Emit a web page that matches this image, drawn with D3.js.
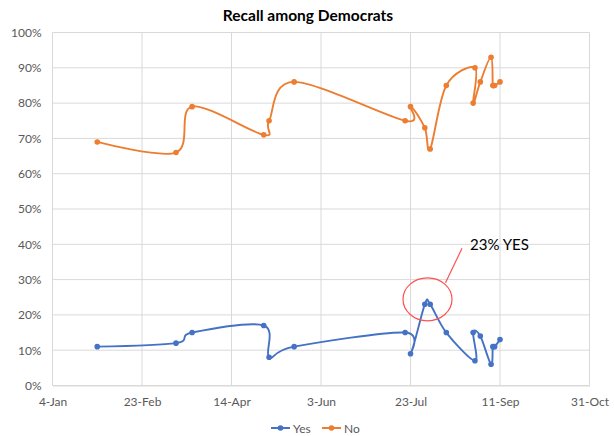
<!DOCTYPE html>
<html>
<head>
<meta charset="utf-8">
<script src="https://cdn.jsdelivr.net/npm/d3@7"></script>
<style>
  html, body { margin: 0; padding: 0; background: #fff; }
  svg { display: block; }
</style>
</head>
<body>
<svg id="chart" width="614" height="436"></svg>
<script>
// ---- data ----
const dates = ["2021-01-29","2021-03-14","2021-03-23","2021-05-02","2021-05-05","2021-05-19",
  "2021-07-20","2021-07-23","2021-07-31","2021-08-03","2021-08-12","2021-08-28","2021-08-27",
  "2021-08-31","2021-09-06","2021-09-07","2021-09-08","2021-09-11"];
const yesValues = [11,12,15,17,8,11,15,9,23,23,15,7,15,14,6,11,11,13];
const noValues  = [69,66,79,71,75,86,75,79,73,67,85,90,80,86,93,85,85,86];
const xTickDates = ["2021-01-04","2021-02-23","2021-04-14","2021-06-03","2021-07-23","2021-09-11","2021-10-31"];
const yTickValues = [0,10,20,30,40,50,60,70,80,90,100];
const title = "Recall among Democrats";
const annotationText = "23% YES";
const seriesNames = ["Yes","No"];
const seriesColors = ["#4472C4","#ED7D31"];

// ---- chart ----
const parse = d3.utcParse("%Y-%m-%d");
const fmt = d3.utcFormat("%-d-%b");
const svg = d3.select("#chart");
const font = "Lato, 'Open Sans', sans-serif";

const x = d3.scaleUtc()
  .domain([parse(xTickDates[0]), parse(xTickDates[xTickDates.length-1])])
  .range([52.5, 589.5]);
const y = d3.scaleLinear().domain([0,100]).range([385.5, 32.5]);

// gridlines
const grid = svg.append("g");
grid.selectAll("line.h").data(yTickValues).join("line")
  .attr("x1", x.range()[0]).attr("x2", x.range()[1])
  .attr("y1", d => y(d)).attr("y2", d => y(d))
  .attr("stroke", "#d9d9d9").attr("stroke-width", 1);
grid.selectAll("line.v").data(xTickDates).join("line")
  .attr("x1", d => x(parse(d))).attr("x2", d => x(parse(d)))
  .attr("y1", y(0)).attr("y2", y(100))
  .attr("stroke", "#d9d9d9").attr("stroke-width", 1);

// axes
const xAxis = d3.axisBottom(x).tickValues(xTickDates.map(parse)).tickFormat(fmt).tickSize(0).tickPadding(12);
const gx = svg.append("g").attr("transform", `translate(0,${y(0)})`).call(xAxis);
gx.select(".domain").attr("stroke", "#d9d9d9");
gx.selectAll("text").attr("fill", "#595959").style("font-family", font).style("font-size", "12px");

const yAxis = d3.axisLeft(y).tickValues(yTickValues).tickFormat(d => d + "%").tickSize(0).tickPadding(11);
const gy = svg.append("g").attr("transform", `translate(${x.range()[0]},0)`).call(yAxis);
gy.select(".domain").remove();
gy.selectAll("text").attr("fill", "#595959").style("font-family", font).style("font-size", "12px");

// series
const line = d3.line().curve(d3.curveCardinal.tension(0))
  .x(d => x(d.date)).y(d => y(d.v));
[yesValues, noValues].forEach((vals, i) => {
  const pts = vals.map((v, j) => ({date: parse(dates[j]), v}));
  svg.append("path").datum(pts).attr("d", line)
    .attr("fill", "none").attr("stroke", seriesColors[i]).attr("stroke-width", 1.9)
    .attr("stroke-linejoin", "round");
  svg.append("g").selectAll("circle").data(pts).join("circle")
    .attr("cx", d => x(d.date)).attr("cy", d => y(d.v)).attr("r", 2.8)
    .attr("fill", seriesColors[i]);
});

// annotation (ellipse around the 23% peak)
const peakA = parse(dates[8]), peakB = parse(dates[9]);
const cx = (x(peakA) + x(peakB)) / 2, cy = y(yesValues[8]) - 5;
svg.append("ellipse").attr("cx", cx).attr("cy", cy).attr("rx", 24.5).attr("ry", 21.5)
  .attr("fill", "none").attr("stroke", "#FF5050").attr("stroke-width", 1.2);
svg.append("line").attr("x1", cx + 18).attr("y1", cy - 16.5)
  .attr("x2", cx + 34.5).attr("y2", cy - 51)
  .attr("stroke", "#FF5050").attr("stroke-width", 1.2);
svg.append("text").attr("x", 470).attr("y", 250).text(annotationText)
  .attr("fill", "#000").style("font-family", font).style("font-size", "15px");

// title
svg.append("text").attr("x", 308).attr("y", 21).attr("text-anchor", "middle")
  .text(title).attr("fill", "#000").style("font-family", font)
  .style("font-size", "15.5px").style("font-weight", "bold");

// legend
const legend = svg.append("g");
const legendItems = [{x: 271, name: seriesNames[0], c: seriesColors[0]}, {x: 322, name: seriesNames[1], c: seriesColors[1]}];
legendItems.forEach(it => {
  legend.append("line").attr("x1", it.x).attr("x2", it.x + 19).attr("y1", 428).attr("y2", 428)
    .attr("stroke", it.c).attr("stroke-width", 2);
  legend.append("circle").attr("cx", it.x + 9.5).attr("cy", 428).attr("r", 2.8).attr("fill", it.c);
  legend.append("text").attr("x", it.x + 22).attr("y", 432.5).text(it.name)
    .attr("fill", "#595959").style("font-family", font).style("font-size", "12px");
});
</script>
</body>
</html>
